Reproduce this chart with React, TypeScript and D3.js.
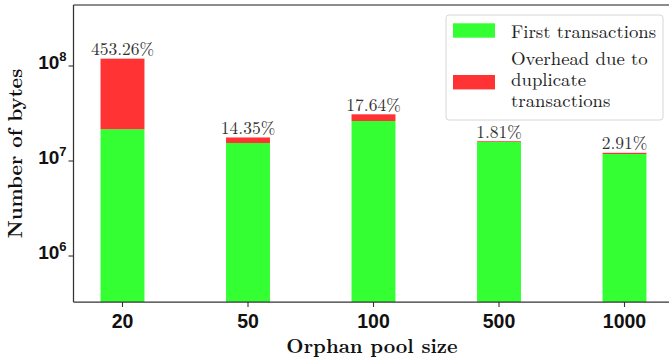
import React from "react";
import * as d3 from "d3";

// Orphan pool size categories
const poolSizes = ["20", "50", "100", "500", "1000"];
// Bytes of first-seen transactions for each pool size
const firstTxBytes = [2.16e7, 1.547e7, 2.636e7, 1.585e7, 1.185e7];
// Overhead from duplicate transactions, as percent of first transactions
const overheadPct = [453.26, 14.35, 17.64, 1.81, 2.91];
// Log-axis decades labelled on the y axis
const yTickExponents = [6, 7, 8];
// Legend entries; the second label wraps over three lines
const legendLines = [["First transactions"], ["Overhead due to", "duplicate", "transactions"]];

const W = 669;
const H = 358;
const plot = { left: 73.5, right: 669, top: 5, bottom: 302 };

const GREEN = "#33ff33";
const RED = "#ff3333";
const SERIF = "'Latin Modern Roman', 'Liberation Serif', 'DejaVu Serif', serif";
const SANS = "'Liberation Sans', 'DejaVu Sans', sans-serif";

export default function App() {
  const x = d3.scalePoint<string>().domain(poolSizes).range([122.5, 624.5]);
  const barW = x.step() * 0.35;
  const y = d3
    .scaleLog()
    .domain([Math.pow(10, 5.516), Math.pow(10, 8.642)])
    .range([plot.bottom, plot.top]);

  const rows = poolSizes.map((p, i) => {
    const first = firstTxBytes[i];
    const overhead = (first * overheadPct[i]) / 100;
    return { p, first, total: first + overhead, pct: overheadPct[i] };
  });

  return (
    <svg
      width={W}
      height={H}
      style={{ position: "absolute", left: 0, top: 0, background: "#fff" }}
    >
      {/* stacked bars */}
      {rows.map((r) => {
        const cx = x(r.p) as number;
        return (
          <g key={r.p}>
            <rect
              x={cx - barW / 2}
              y={y(r.first)}
              width={barW}
              height={plot.bottom - y(r.first)}
              fill={GREEN}
            />
            <rect
              x={cx - barW / 2}
              y={y(r.total)}
              width={barW}
              height={y(r.first) - y(r.total)}
              fill={RED}
            />
            <text
              x={cx}
              y={y(r.total) - 3.5}
              textAnchor="middle"
              fontFamily={SERIF}
              fontSize={17.5}
              fill="#333"
            >
              {r.pct.toFixed(2)}%
            </text>
          </g>
        );
      })}

      {/* spines */}
      <line x1={plot.left} x2={plot.right} y1={plot.top} y2={plot.top} stroke="#666" strokeWidth={1.5} />
      <line x1={plot.left} x2={plot.left} y1={plot.top} y2={plot.bottom} stroke="#333" strokeWidth={1.25} />
      <line x1={plot.left} x2={plot.right} y1={plot.bottom} y2={plot.bottom} stroke="#333" strokeWidth={1.25} />

      {/* x axis ticks */}
      {poolSizes.map((p) => (
        <g key={p} transform={`translate(${x(p)},${plot.bottom})`}>
          <line y1={0} y2={5} stroke="#333" strokeWidth={1.1} />
          <text
            y={25.5}
            textAnchor="middle"
            fontFamily={SANS}
            fontWeight="bold"
            fontSize={19.5}
            fill="#111"
          >
            {p}
          </text>
        </g>
      ))}

      {/* y axis ticks */}
      {yTickExponents.map((e) => {
        const ty = y(Math.pow(10, e));
        return (
          <g key={e} transform={`translate(${plot.left},${ty})`}>
            <line x1={-5} x2={0} stroke="#333" strokeWidth={1.1} />
            <text
              x={-7}
              y={3}
              textAnchor="end"
              fontFamily={SANS}
              fontWeight="bold"
              fontSize={19}
              fill="#111"
            >
              10
              <tspan fontSize={13} dy={-8}>
                {e}
              </tspan>
            </text>
          </g>
        );
      })}

      {/* axis titles */}
      <text
        x={372}
        y={353}
        textAnchor="middle"
        fontFamily={SERIF}
        fontWeight="bold"
        fontSize={20}
        fill="#111"
      >
        Orphan pool size
      </text>
      <text
        transform={`translate(22,${(plot.top + plot.bottom) / 2}) rotate(-90)`}
        textAnchor="middle"
        fontFamily={SERIF}
        fontWeight="bold"
        fontSize={20}
        fill="#111"
      >
        Number of bytes
      </text>

      {/* legend */}
      <g>
        <rect x={446} y={15} width={217} height={105} rx={3} fill="#fff" fillOpacity={0.85} stroke="#d6d6d6" />
        <rect x={453} y={23.3} width={42} height={14.4} fill={GREEN} />
        <rect x={453} y={75} width={42} height={14.4} fill={RED} />
        <g fontFamily={SERIF} fontSize={18.8} fill="#222">
          <text x={511} y={37.5}>{legendLines[0][0]}</text>
          <text x={511} y={65}>
            {legendLines[1].map((line, i) => (
              <tspan key={line} x={511} dy={i === 0 ? 0 : 21.2}>
                {line}
              </tspan>
            ))}
          </text>
        </g>
      </g>
    </svg>
  );
}
